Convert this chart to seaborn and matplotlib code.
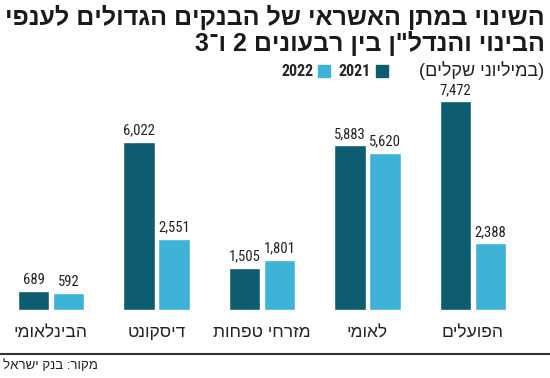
import matplotlib
matplotlib.use("Agg")
import matplotlib.pyplot as plt
from matplotlib import font_manager
from matplotlib.lines import Line2D
from matplotlib.patches import Rectangle
import pandas as pd
import seaborn as sns

# data
BANKS = ["הבינלאומי", "דיסקונט", "מזרחי טפחות", "לאומי", "הפועלים"]
YEARS = ["2021", "2022"]
V2021 = [689, 6022, 1505, 5883, 7472]
V2022 = [592, 2551, 1801, 5620, 2388]

TITLE_1 = "השינוי במתן האשראי של הבנקים הגדולים לענפי"
TITLE_2 = "הבינוי והנדל\"ן בין רבעונים 2 ו־3"
UNITS = "(במיליוני שקלים)"
SOURCE = "מקור: בנק ישראל"

DARK = "#0e5c70"
LIGHT = "#3fb3d7"


def rtl(s):
    """matplotlib has no bidi: flip to visual order, mirror brackets."""
    out = s[::-1]
    return out.translate(str.maketrans("()", ")("))


installed = {f.name for f in font_manager.fontManager.ttflist}
HEB = "Liberation Sans" if "Liberation Sans" in installed else "DejaVu Sans"
NUM = next((f for f in ["Liberation Sans Narrow", "Roboto Condensed", "Roboto"] if f in installed), "DejaVu Sans")

sns.set_style("white")
plt.rcParams["font.family"] = [HEB, "DejaVu Sans"]

df = pd.DataFrame({
    "bank": [rtl(b) for b in BANKS] * 2,
    "year": [YEARS[0]] * len(BANKS) + [YEARS[1]] * len(BANKS),
    "value": V2021 + V2022,
})

fig = plt.figure(figsize=(5.5, 3.78), dpi=100)
ax = fig.add_axes([0, 68 / 378, 1, 220 / 378])

sns.barplot(data=df, x="bank", y="value", hue="year", palette=[DARK, LIGHT],
            width=0.66, gap=0.09, legend=False, ax=ax, saturation=1)

for cont in ax.containers:
    ax.bar_label(cont, fmt="{:,.0f}", padding=3, fontsize=10.5, family=NUM, color="#222222")

ax.set_xlim(-0.483, 4.73)
ax.set_ylim(0, 7472 * 220 / 209)
ax.set_xlabel("")
ax.set_ylabel("")
ax.set_yticks([])
ax.tick_params(axis="x", length=0, pad=11, labelsize=12.5, labelcolor="#222222")
sns.despine(ax=ax, left=True, bottom=True)

# title + units legend
fig.text(0.99, 1 - 17 / 378, rtl(TITLE_1), ha="right", va="center",
         fontsize=18, fontweight="bold", color="#1a1a1a")
fig.text(0.99, 1 - 43 / 378, rtl(TITLE_2), ha="right", va="center",
         fontsize=18, fontweight="bold", color="#1a1a1a")

ly = 1 - 71 / 378
fig.text(0.99, ly, rtl(UNITS), ha="right", va="center", fontsize=13, color="#222222")
sq = 12 / 550
fig.add_artist(Rectangle((376 / 550, ly - 6 / 378), sq, 12 / 378, color=DARK, transform=fig.transFigure))
fig.text(371 / 550, ly, YEARS[0], ha="right", va="center", fontsize=11.5, fontweight="bold", family=NUM)
fig.add_artist(Rectangle((318 / 550, ly - 6 / 378), sq, 12 / 378, color=LIGHT, transform=fig.transFigure))
fig.text(314 / 550, ly, YEARS[1], ha="right", va="center", fontsize=11.5, fontweight="bold", family=NUM)

# bottom rule + source
fig.add_artist(Line2D([0, 1], [1 - 354 / 378] * 2, color="#333333", lw=1.5, transform=fig.transFigure))
fig.text(0.006, 1 - 366 / 378, rtl(SOURCE), ha="left", va="center", fontsize=9.5, color="#222222")

fig.savefig("out.png", dpi=100)
